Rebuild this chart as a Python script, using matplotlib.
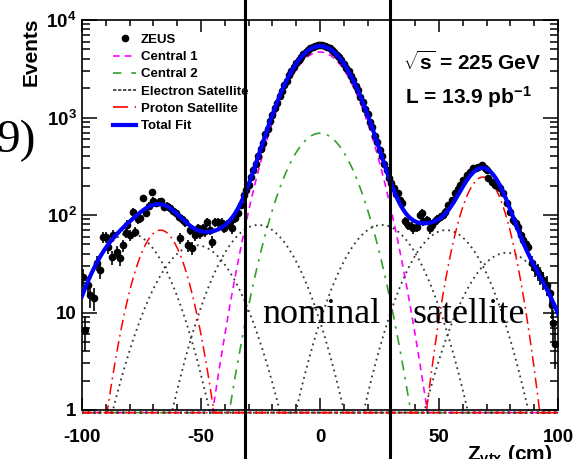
import numpy as np
import matplotlib
matplotlib.use('Agg')
import matplotlib.pyplot as plt
from matplotlib.ticker import FixedLocator, FixedFormatter, MultipleLocator, NullFormatter
from matplotlib.lines import Line2D

plt.rcParams['font.family'] = ['Liberation Sans', 'DejaVu Sans']
plt.rcParams['mathtext.fontset'] = 'custom'
plt.rcParams['mathtext.rm'] = 'Liberation Sans:bold'
plt.rcParams['mathtext.bf'] = 'Liberation Sans:bold'
plt.rcParams['mathtext.it'] = 'Liberation Sans:bold'
plt.rcParams['mathtext.sf'] = 'Liberation Sans:bold'
plt.rcParams['axes.unicode_minus'] = False

# ---------------- data ----------------
zeus_x = [-99.6, -98.7, -97.6, -96.6, -95.0, -93.6, -92.3, -91.2, -89.9, -89.0,
          -87.6, -86.8, -85.3, -84.2, -82.8, -81.6, -81.0, -79.8, -78.6, -77.7,
          -76.6, -75.6, -74.2, -73.0, -72.0, -70.6, -70.0, -69.0, -67.8, -66.8,
          -65.6, -64.4, -63.0, -61.8, -60.4, -59.2, -58.8, -57.8, -56.7, -55.5,
          -54.6, -53.8, -52.6, -51.3, -50.4, -49.2, -48.3, -47.5, -46.4, -45.4,
          -44.1, -42.9, -41.2, -40.2, -39.1, -38.0, -37.0, -35.7, -34.5, -33.4,
          -32, -31, -30, -29, -28, -27, -26, -25, -24, -23, -22, -21, -20, -19,
          -18, -17, -16, -15, -14, -13, -12, -11, -10, -9, -8, -7, -6, -5, -4,
          -3, -2, -1, 0, 1, 2, 3, 4, 5, 6, 7, 8, 9, 10, 11, 12, 13, 14, 15, 16,
          17, 18, 19, 20, 21, 22, 23, 24, 25, 26, 27, 28, 29, 30, 31, 32,
          32.9, 33.6, 34.3, 35.7, 37.1, 38.5, 39.2, 40.6, 42.0, 42.7, 43.4, 44.8,
          46.2, 46.9, 48.3, 49.3, 50.4, 51.5, 52.5, 53.9, 55.3, 56.7, 57.8, 58.8,
          60.2, 61.6, 63.0, 64.4, 65.5, 66.5, 67.9, 69.3, 70.0, 70.7, 72.1, 73.5,
          74.6, 75.6, 77.0, 78.4, 79.8, 81.2, 82.3, 83.3, 84.4, 85.4, 86.5, 87.5,
          89.0, 90.3, 91.4, 92.4, 93.8, 95.3, 96.6, 97.4, 98.0, 98.7]
zeus_y = [23, 6.6, 19, 15, 14, 32, 27, 59, 59, 47,
          37, 62, 42, 36, 49, 66, 79, 62, 107, 67,
          90, 93, 148, 105, 125, 172, 140, 132, 136, 138,
          121, 125, 118, 110, 105, 96, 58, 90, 85, 49,
          70, 46, 62, 73, 65, 73, 68, 85, 70, 53,
          85, 85, 83, 74, 79, 84, 73, 93, 105, 128,
          160, 182, 205, 245, 290, 330, 400, 480, 550, 670, 770, 925, 1060, 1260,
          1420, 1680, 1870, 2170, 2380, 2720, 2990, 3310, 3580, 3920, 4150, 4470,
          4700, 4950, 5150, 5320, 5450, 5520, 5600, 5560, 5430, 5300, 5120, 4900,
          4680, 4420, 4170, 3860, 3570, 3250, 2990, 2660, 2420, 2110, 1900, 1640,
          1450, 1230, 1080, 900, 790, 650, 565, 465, 405, 330, 290, 240, 212, 190,
          165,
          167, 142, 132, 86, 79, 76, 73, 76, 100, 104, 86, 89,
          73, 79, 86, 90, 96, 100, 108, 126, 142, 167, 185, 204,
          228, 257, 278, 300, 305, 312, 325, 300, 290, 240, 219, 204,
          200, 187, 167, 132, 108, 89, 82, 76, 62, 55, 50, 47,
          32, 28.4, 26, 24.3, 21.5, 19.1, 15.7, 12, 7.75, 4.8]

# fit components: centre (cm), peak height (events), half-width where the curve reaches 1 event
central_mu = [0.0, 0.0]
central_peak = [4700, 690]
central_hw = [45.0, 38.0]
esat_mu = [-80.0, -52.0, -26.0, 26.0, 53.0, 78.5]
esat_peak = [65, 49, 79, 79, 70, 41]
esat_hw = [33.5, 35.0, 36.0, 36.0, 34.5, 34.5]
psat_mu = [-67.0, 68.5]
psat_peak = [70, 245]
psat_hw = [22.3, 23.7]

boundaries = [-31.5, 29.4]

legend_labels = ['ZEUS', 'Central 1', 'Central 2', 'Electron Satellite',
                 'Proton Satellite', 'Total Fit']
ytick_vals = [1, 10, 100, 1000, 10000]
ytick_labels = ['1', '10', r'$\mathbf{10^{2}}$', r'$\mathbf{10^{3}}$', r'$\mathbf{10^{4}}$']
xtick_vals = [-100, -50, 0, 50, 100]


def gauss(z, mu, peak, hw):
    s2 = hw ** 2 / (2.0 * np.log(peak))
    return peak * np.exp(-(z - mu) ** 2 / (2.0 * s2))

# ---------------- figure ----------------
W, H = 587, 459
fig = plt.figure(figsize=(W / 100, H / 100), dpi=100)
ax = fig.add_axes([82 / W, 49 / H, 476 / W, 390 / H])
ax.set_xlim(-100, 100)
ax.set_ylim(1, 1e4)
ax.set_yscale('log')

z = np.linspace(-100, 100, 1601)
floor = 0.94

c1_col = '#ff00ff'
c2_col = '#33a02c'
e_col = '#333333'
p_col = '#ff0000'

total = np.zeros_like(z)
c_styles = [(c1_col, (0, (4, 3))), (c2_col, (0, (6, 4, 1.5, 4)))]
for (mu, pk, hw), (col, ls) in zip(zip(central_mu, central_peak, central_hw), c_styles):
    g = gauss(z, mu, pk, hw)
    total += g
    ax.plot(z, np.maximum(g, floor), color=col, ls=ls, lw=1.2, clip_on=False, zorder=2)
for mu, pk, hw in zip(esat_mu, esat_peak, esat_hw):
    g = gauss(z, mu, pk, hw)
    total += g
    ax.plot(z, np.maximum(g, floor), color=e_col, ls=(0, (1, 2.2)), lw=1.3, clip_on=False, zorder=2)
for mu, pk, hw in zip(psat_mu, psat_peak, psat_hw):
    g = gauss(z, mu, pk, hw)
    total += g
    ax.plot(z, np.maximum(g, floor), color=p_col, ls=(0, (7, 3, 1.2, 3)), lw=1.1, clip_on=False, zorder=2)

zx = np.array(zeus_x)
zy = np.array(zeus_y)
ax.errorbar(zx, zy, yerr=np.sqrt(zy), fmt='o', color='black', ms=4.5,
            elinewidth=1.2, capsize=0, zorder=3)
ax.plot(z, total, color='#0000ff', lw=3.0, zorder=4)

# legend
handles = [
    Line2D([], [], marker='o', color='black', ls='none', ms=4.5),
    Line2D([], [], color=c1_col, ls=(0, (4, 3)), lw=1.2),
    Line2D([], [], color=c2_col, ls=(0, (5, 6)), lw=1.2),
    Line2D([], [], color=e_col, ls=(0, (2, 1)), lw=1.2),
    Line2D([], [], color=p_col, ls=(0, (9, 4, 1.5, 4)), lw=1.2),
    Line2D([], [], color='#0000ff', lw=3.0),
]
leg = ax.legend(handles, legend_labels, loc='upper left', bbox_to_anchor=(0.066, 0.965),
                frameon=False, prop={'weight': 'bold', 'size': 9.5}, handlelength=1.7,
                handletextpad=0.4, labelspacing=0.38, borderpad=0, borderaxespad=0)

# axes styling
for sp in ax.spines.values():
    sp.set_linewidth(1.2)
ax.yaxis.set_major_locator(FixedLocator(ytick_vals))
ax.yaxis.set_major_formatter(FixedFormatter(ytick_labels))
minor_y = [m * 10 ** e for e in range(0, 4) for m in range(2, 10)]
ax.yaxis.set_minor_locator(FixedLocator(minor_y))
ax.yaxis.set_minor_formatter(NullFormatter())
ax.xaxis.set_major_locator(FixedLocator(xtick_vals))
ax.xaxis.set_minor_locator(MultipleLocator(10))
ax.tick_params(axis='both', which='both', direction='in', top=True, right=True,
               width=1.1, labelsize=13.5)
ax.tick_params(axis='y', which='major', length=10.5, pad=4)
ax.tick_params(axis='y', which='minor', length=5.5)
ax.tick_params(axis='x', which='major', length=8.5, pad=14)
ax.tick_params(axis='x', which='minor', length=4.3)
for lab in ax.get_xticklabels() + ax.get_yticklabels():
    lab.set_fontweight('bold')

# annotations
fig.text(403 / W, 1 - 62 / H, r'$\mathbf{\sqrt{s}}$ = 225 GeV',
         fontsize=15, fontweight='bold', va='center', ha='left')
fig.text(405 / W, 1 - 97 / H, r'L = 13.9 pb$^{\mathbf{-1}}$',
         fontsize=15, fontweight='bold', va='center', ha='left')

for b in boundaries:
    ax.axvline(b, ymin=-0.13, ymax=1.06, color='black', lw=2.2, clip_on=False, zorder=6)

fig.text(31 / W, 1 - 18 / H, 'Events', rotation=90, ha='center', va='top',
         fontsize=15, fontweight='bold')
fig.text(553 / W, 1 - 460 / H, r'Z$_{\mathbf{vtx}}$ (cm)', ha='right', va='baseline',
         fontsize=15, fontweight='bold')
fig.text(-3 / W, 1 - 152 / H, '9)', family=['Liberation Serif', 'DejaVu Serif'],
         fontsize=34, va='baseline', ha='left')
fig.text(262 / W, 1 - 323 / H, 'nominal', family=['Liberation Serif', 'DejaVu Serif'],
         fontsize=26, va='baseline', ha='left', zorder=10)
fig.text(412 / W, 1 - 323 / H, 'satellite', family=['Liberation Serif', 'DejaVu Serif'],
         fontsize=26, va='baseline', ha='left', zorder=10)

fig.savefig('out.png', dpi=100)
